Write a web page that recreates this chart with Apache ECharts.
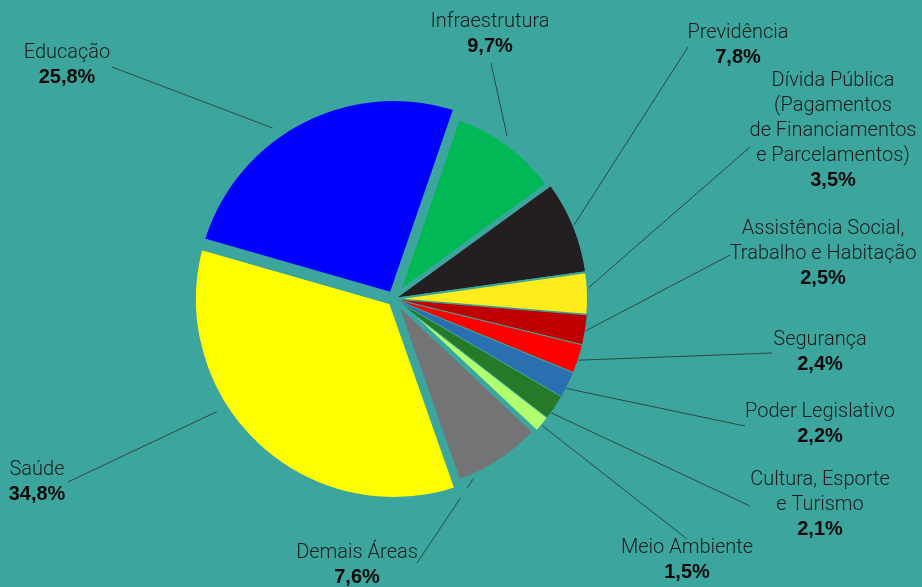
<!DOCTYPE html>
<html><head><meta charset="utf-8">
<script src="https://cdn.jsdelivr.net/npm/echarts@6/dist/echarts.min.js"></script>
<style>html,body{margin:0;padding:0;background:#3ca59d;}#c{width:922px;height:587px;}</style>
</head><body><div id="c"></div>
<script>
// ---- data ----
const categories = [
  'Infraestrutura',
  'Previdência',
  'Dívida Pública\n(Pagamentos\nde Financiamentos\ne Parcelamentos)',
  'Assistência Social,\nTrabalho e Habitação',
  'Segurança',
  'Poder Legislativo',
  'Cultura, Esporte\ne Turismo',
  'Meio Ambiente',
  'Demais Áreas',
  'Saúde',
  'Educação'
];
const values = [9.7, 7.8, 3.5, 2.5, 2.4, 2.2, 2.1, 1.5, 7.6, 34.8, 25.8];

// ---- style / layout ----
const BG = '#3ca59d';
const LINE = '#2b4a47';
const colors = ['#00b956', '#231f20', '#ffec1c', '#c00000', '#ff0000', '#2a6fb0', '#267a27', '#b0ff6e', '#747476', '#ffff00', '#0000ff'];
const outerRing = [false, false, false, false, false, false, false, false, false, true, true];
const borderW = [8, 2, 2, 1, 1, 1, 1, 1, 5, 12, 12];
const CENTER = [394, 299];
const START = 71;
const R_OUTER = 204, R_CORE = 194;
// label block: [centre x, top y]
const labelPos = [[490, 9], [738, 20], [833, 68], [823, 216], [820, 327], [820, 399], [820, 467], [687, 535], [357, 540], [37, 457], [67, 40]];
// where the leader line meets the label
const lineEnd = [[491, 63], [688, 47], [750, 147], [730, 255], [772, 353], [745, 426], [750, 506], [687, 539], [417, 563], [68, 482], [112, 67]];
// where along the slice (fraction of its angle) the leader line points
const anchorFrac = [0.53, 0.5, 0.4, 0.55, 0.55, 0.65, 0.75, 0.5, 0.75, 0.61, 0.44];

const total = values.reduce((a, b) => a + b, 0);
function sliceAnchor(i, r) {
  let a = -START * Math.PI / 180;
  for (let k = 0; k < i; k++) a += values[k] / total * Math.PI * 2;
  a += anchorFrac[i] * values[i] / total * Math.PI * 2;
  return [CENTER[0] + r * Math.cos(a), CENTER[1] + r * Math.sin(a)];
}
function pct(v) { return v.toFixed(1).replace('.', ',') + '%'; }

function buildSeries(isOuter) {
  const R = isOuter ? R_OUTER : R_CORE;
  return {
    type: 'pie',
    center: CENTER,
    radius: [0, R],
    startAngle: START,
    clockwise: true,
    avoidLabelOverlap: false,
    silent: true,
    animation: false,
    emphasis: { disabled: true },
    data: values.map((v, i) => {
      const mine = outerRing[i] === isOuter;
      return {
        name: categories[i],
        value: v,
        itemStyle: mine ? { color: colors[i], borderColor: BG, borderWidth: borderW[i], borderJoin: 'round' }
                        : { color: 'rgba(0,0,0,0)', borderWidth: 0 },
        label: { show: mine },
        labelLine: { show: mine }
      };
    }),
    label: {
      position: 'outside',
      width: 240,
      overflow: 'none',
      formatter: p => {
        const i = p.dataIndex;
        return categories[i].split('\n').map(s => '{n|' + s + '}').join('\n') + '\n{p|' + pct(values[i]) + '}';
      },
      rich: {
        n: { fontFamily: 'Roboto', fontWeight: 300, fontSize: 20, lineHeight: 25, color: '#1c1c1c', align: 'center' },
        p: { fontFamily: 'Liberation Sans', fontWeight: 'bold', fontSize: 20, lineHeight: 25, color: '#0a0a0a', align: 'center' }
      }
    },
    labelLine: { show: true, length: 10, length2: 0, lineStyle: { color: LINE, width: 1 } },
    labelLayout: function (params) {
      const i = params.dataIndex;
      if (outerRing[i] !== isOuter) return {};
      const r = R - borderW[i] / 2;
      return {
        x: labelPos[i][0],
        y: labelPos[i][1],
        align: 'center',
        verticalAlign: 'top',
        labelLinePoints: [sliceAnchor(i, r), lineEnd[i]]
      };
    }
  };
}

const chart = echarts.init(document.getElementById('c'), null, { renderer: 'canvas' });
chart.setOption({
  backgroundColor: BG,
  animation: false,
  series: [buildSeries(true), buildSeries(false)]
});
</script>
</body></html>
